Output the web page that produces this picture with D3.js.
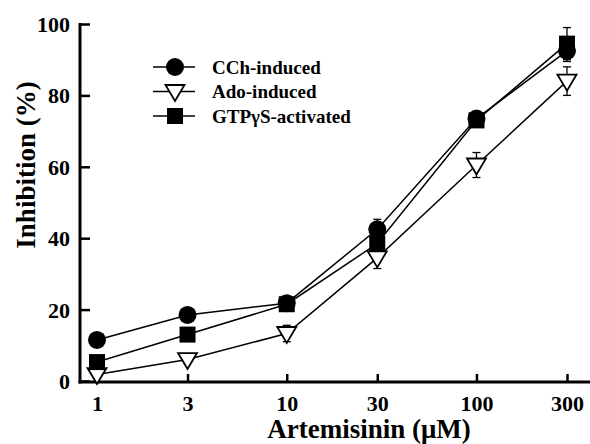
<!DOCTYPE html>
<html>
<head>
<meta charset="utf-8">
<script src="https://cdn.jsdelivr.net/npm/d3@7"></script>
<style>
  body { margin: 0; background: #fff; }
  text { font-family: "Liberation Serif", "Times New Roman", serif; font-weight: bold; fill: #000; }
</style>
</head>
<body>
<svg id="chart" width="590" height="444"></svg>
<script>
// concentrations (uM) and inhibition (%)
var doses = [1, 3, 10, 30, 100, 300];
var cchValues = [11.5, 18.5, 21.8, 42.5, 73.5, 92.5];
var cchErr = [0, 0, 0, 2.8, 0, 3];
var adoValues = [1.8, 6, 13.3, 34.5, 60.5, 84];
var adoErr = [0, 0, 2.3, 3, 3.5, 4];
var gtpValues = [5.3, 13, 21.5, 38.5, 73, 94.5];
var gtpErr = [0, 0, 0, 0, 0, 4.5];
var yTicks = [0, 20, 40, 60, 80, 100];
var seriesNames = ["CCh-induced", "Ado-induced", "GTP\u03b3S-activated"];
var seriesShapes = ["circle", "triangle", "square"];

var series = [
  { name: seriesNames[0], shape: seriesShapes[0], values: cchValues, err: cchErr },
  { name: seriesNames[1], shape: seriesShapes[1], values: adoValues, err: adoErr },
  { name: seriesNames[2], shape: seriesShapes[2], values: gtpValues, err: gtpErr }
];

var svg = d3.select("#chart");
var axisX = 80, axisY = 382;

var x = d3.scaleLog().domain([1, 300]).range([97, 567]);
var y = d3.scaleLinear().domain([0, 100]).range([381, 24]);

// y axis, ticks pointing inward
var yAxis = svg.append("g")
  .attr("transform", `translate(${axisX},0)`)
  .call(d3.axisLeft(y).tickValues(yTicks).tickSize(-10).tickSizeOuter(0).tickPadding(10));
yAxis.select(".domain").remove();
yAxis.selectAll(".tick line").attr("stroke-width", 2.5);
yAxis.selectAll(".tick text").style("font-size", "22px").attr("dy", "0.34em");
svg.append("line")
  .attr("x1", axisX).attr("x2", axisX)
  .attr("y1", y(100) - 1).attr("y2", axisY + 1.5)
  .attr("stroke", "#000").attr("stroke-width", 3);

// x axis, log spaced, ticks pointing up
var xAxis = svg.append("g")
  .attr("transform", `translate(0,${axisY})`)
  .call(d3.axisBottom(x).tickValues(doses).tickFormat(d3.format("d")).tickSize(-8).tickPadding(13));
xAxis.select(".domain").remove();
xAxis.selectAll(".tick line").attr("stroke-width", 2.5);
xAxis.selectAll(".tick text").style("font-size", "22px").attr("dy", "0.71em");
svg.append("line")
  .attr("x1", axisX - 1.5).attr("x2", 590)
  .attr("y1", axisY).attr("y2", axisY)
  .attr("stroke", "#000").attr("stroke-width", 3);

// axis titles
svg.append("text")
  .attr("transform", "rotate(-90)")
  .attr("x", -165).attr("y", 35)
  .style("text-anchor", "middle")
  .style("font-size", "27px")
  .text("Inhibition (%)");
svg.append("text")
  .attr("x", 369).attr("y", 438)
  .style("text-anchor", "middle")
  .style("font-size", "27px")
  .text("Artemisinin (\u03bcM)");

function drawMarker(g, shape) {
  if (shape === "circle") {
    g.append("circle").attr("r", 9).attr("fill", "#000");
  } else if (shape === "square") {
    g.append("rect").attr("x", -8).attr("y", -8).attr("width", 16).attr("height", 16).attr("fill", "#000");
  } else {
    g.append("path").attr("d", "M-9.5,-6.5L9.5,-6.5L0,9.5Z")
      .attr("fill", "#fff").attr("stroke", "#000").attr("stroke-width", 1.8);
  }
}

var line = d3.line().x((d, i) => x(doses[i])).y(d => y(d));

// connecting lines
svg.selectAll(".series-line")
  .data(series)
  .join("path")
  .attr("class", "series-line")
  .attr("d", d => line(d.values))
  .attr("fill", "none")
  .attr("stroke", "#000")
  .attr("stroke-width", 1.5);

// error bars
series.forEach(function (s) {
  var bars = doses.map((dose, i) => ({ dose: dose, v: s.values[i], e: s.err[i] })).filter(d => d.e > 0);
  var eb = svg.append("g");
  eb.selectAll(".eb-v").data(bars).join("line")
    .attr("x1", d => x(d.dose)).attr("x2", d => x(d.dose))
    .attr("y1", d => y(d.v - d.e)).attr("y2", d => y(d.v + d.e))
    .attr("stroke", "#000").attr("stroke-width", 1.3);
  eb.selectAll(".eb-top").data(bars).join("line")
    .attr("x1", d => x(d.dose) - 4).attr("x2", d => x(d.dose) + 4)
    .attr("y1", d => y(d.v + d.e)).attr("y2", d => y(d.v + d.e))
    .attr("stroke", "#000").attr("stroke-width", 1.3);
  eb.selectAll(".eb-bot").data(bars).join("line")
    .attr("x1", d => x(d.dose) - 4).attr("x2", d => x(d.dose) + 4)
    .attr("y1", d => y(d.v - d.e)).attr("y2", d => y(d.v - d.e))
    .attr("stroke", "#000").attr("stroke-width", 1.3);
});

// markers
series.forEach(function (s) {
  s.values.forEach(function (v, i) {
    var g = svg.append("g").attr("transform", `translate(${x(doses[i])},${y(v)})`);
    drawMarker(g, s.shape);
  });
});

// legend
var legend = svg.append("g").attr("transform", "translate(153,67)");
series.forEach(function (s, i) {
  var row = legend.append("g").attr("transform", `translate(0,${i * 24.5})`);
  row.append("line").attr("x1", 0).attr("x2", 42).attr("y1", 0).attr("y2", 0)
    .attr("stroke", "#000").attr("stroke-width", 1.3);
  var m = row.append("g").attr("transform", "translate(22,0)");
  drawMarker(m, s.shape);
  row.append("text").attr("x", 59).attr("y", 6.5).style("font-size", "19px").text(s.name);
});
</script>
</body>
</html>
